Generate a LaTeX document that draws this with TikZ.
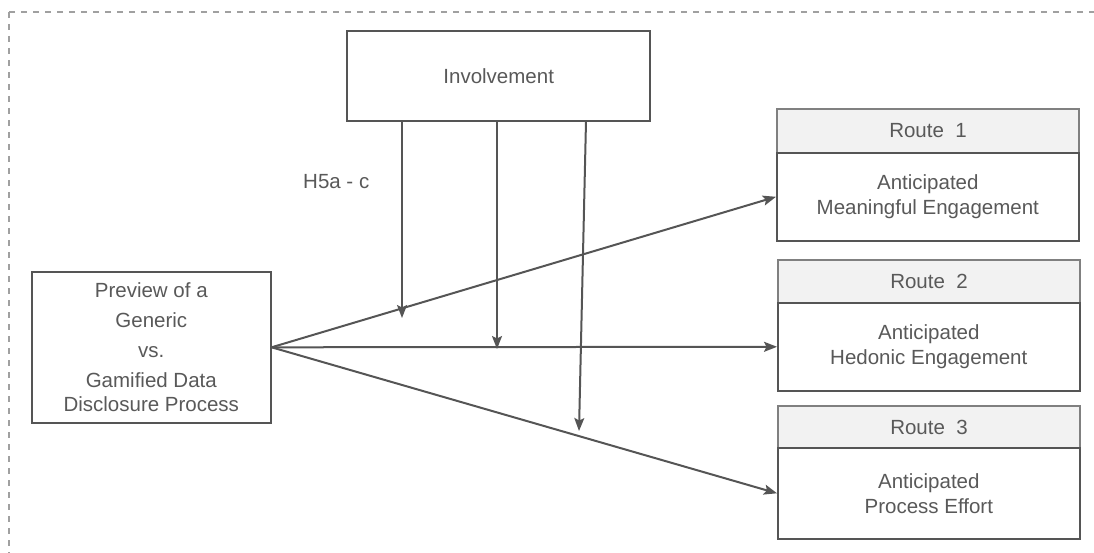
\documentclass[tikz,border=0pt]{standalone}
\usepackage{fontspec}
\setmainfont{Liberation Sans}
\usetikzlibrary{arrows.meta,calc}
\definecolor{txt}{HTML}{595959}
\definecolor{ln}{HTML}{555555}
\definecolor{dsh}{HTML}{A0A0A0}
\definecolor{hdr}{HTML}{F2F2F2}
\definecolor{hdrline}{HTML}{808080}
\begin{document}
\begin{tikzpicture}[x=1pt,y=-1pt,
  every node/.style={font=\fontsize{20.5}{30}\selectfont, text=txt, inner sep=0pt},
  mainbox/.style={draw=ln, line width=2.4pt, fill=white, anchor=north west},
  prevbox/.style={draw=ln, line width=1.6pt, fill=white, anchor=north west, align=center},
  hdrbox/.style={draw=hdrline, line width=2pt, fill=hdr, anchor=north west},
  bodybox/.style={draw=ln, line width=1.6pt, fill=white, anchor=north west, align=center,
    font=\fontsize{20.5}{25}\selectfont},
  arr/.style={draw=ln, line width=2pt, -{Stealth[length=13pt,width=10pt,inset=2.5pt]}}]
\useasboundingbox (0,0) rectangle (1094,553);
\begin{scope}
\clip (0,0) rectangle (1094,553);
\draw[dsh, line width=1.4pt, dash pattern=on 6pt off 6pt] (9,12) rectangle (1110,570);
\end{scope}

\node[mainbox, minimum width=303pt, minimum height=90pt] (inv) at (346,30) {Involvement};

\node[prevbox, minimum width=239pt, minimum height=151pt] (prev) at (31,271)
  {Preview of a\\Generic\\vs.\\Gamified Data\\[-6pt]Disclosure Process};

\node[hdrbox, minimum width=302pt, minimum height=44pt] (h1) at (776,108) {Route~~1};
\node[bodybox, minimum width=302pt, minimum height=88pt] (r1) at (776,152)
  {Anticipated\\Meaningful Engagement};

\node[hdrbox, minimum width=302pt, minimum height=43pt] (h2) at (777,259) {Route~~2};
\node[bodybox, minimum width=302pt, minimum height=88pt] (r2) at (777,302)
  {Anticipated\\Hedonic Engagement};

\node[hdrbox, minimum width=302pt, minimum height=42pt] (h3) at (777,405) {Route~~3};
\node[bodybox, minimum width=302pt, minimum height=91pt] (r3) at (777,447)
  {Anticipated\\Process Effort};

\node[anchor=west] (lbl) at (303,182) {H5a - c};

\draw[arr] (prev.east) -- (r1.west);
\draw[arr] (prev.east) -- (r2.west);
\draw[arr] (prev.east) -- (r3.west);

\coordinate (s1) at (402,121);
\coordinate (s2) at (497,121);
\coordinate (s3) at (586,121);
\coordinate (e1) at (402,318);
\coordinate (e2) at (497,349);
\coordinate (e3) at (579,431);
\draw[arr] (s1) -- (e1);
\draw[arr] (s2) -- (e2);
\draw[arr] (s3) -- (e3);
\end{tikzpicture}
\end{document}
